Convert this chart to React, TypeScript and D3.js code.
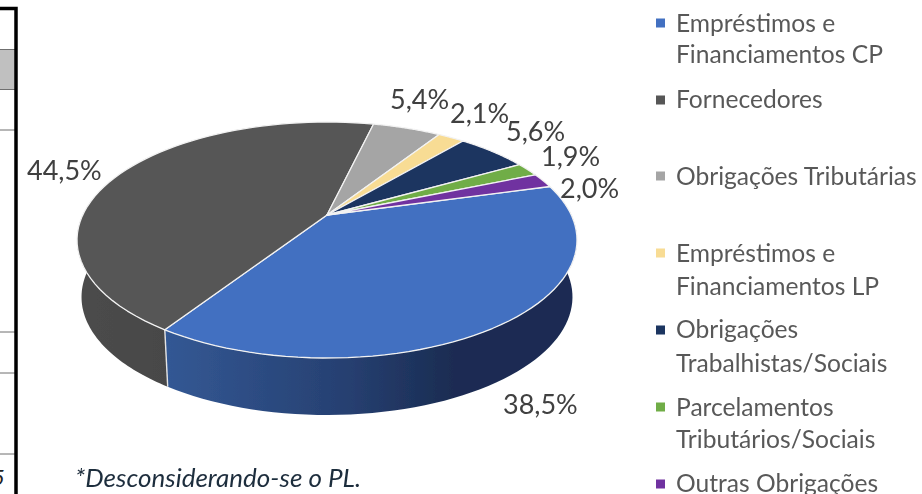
import React from 'react';
import * as d3 from 'd3';

// data
const categories = [
  'Empréstimos e Financiamentos CP',
  'Fornecedores',
  'Obrigações Tributárias',
  'Empréstimos e Financiamentos LP',
  'Obrigações Trabalhistas/Sociais',
  'Parcelamentos Tributários/Sociais',
  'Outras Obrigações',
];
const shares = [38.5, 44.5, 5.4, 2.1, 5.6, 1.9, 2.0];
const percentLabels = ['38,5%', '44,5%', '5,4%', '2,1%', '5,6%', '1,9%', '2,0%'];
const legendLines = [
  ['Empréstimos e', 'Financiamentos CP'],
  ['Fornecedores'],
  ['Obrigações Tributárias'],
  ['Empréstimos e', 'Financiamentos LP'],
  ['Obrigações', 'Trabalhistas/Sociais'],
  ['Parcelamentos', 'Tributários/Sociais'],
  ['Outras Obrigações'],
];
const footnote = '*Desconsiderando-se o PL.';

// layout and styles
const colors = ['#4270c1', '#575757', '#a5a5a5', '#f8dc94', '#1d3461', '#70ad47', '#7030a0'];
const labelPos = [[503, 414], [27, 180], [390, 109], [450, 123], [506, 141], [541, 166], [560, 198]];
const legendBaselines = [[32, 63], [108], [185], [262, 295], [338, 372], [416, 448], [492]];
const legendSquares = [23, 100, 176, 253, 330, 407, 484];
const tableRules = [49.5, 89.5, 130, 332, 373, 454];

const W = 922;
const H = 494;
const cx = 327;
const cy = 215;
const R = 244.3;
const tilt = 112.7;
const k = 0.2119;
const depth = 57;
const sideScale = 0.982;
const startDeg = 74.5;

// perspective projection of a point on the pie rim
const project = (a: number, r = 1): [number, number] => {
  const u = Math.sin(a) * r;
  const v = -Math.cos(a) * r;
  const s = 1 / (1 - k * v);
  return [cx + R * u * s, cy + tilt * v * s];
};
const projectLow = (a: number): [number, number] => {
  const [x, y] = project(a);
  return [cx + (x - cx) * sideScale, y + depth];
};

const line = d3.line();
const samples = (a0: number, a1: number, f: (a: number) => [number, number]) =>
  d3.range(0, 61).map((i) => f(a0 + ((a1 - a0) * i) / 60));

const App = () => {
  const arcs = d3
    .pie<number>()
    .sort(null)
    .startAngle((startDeg * Math.PI) / 180)
    .endAngle((startDeg * Math.PI) / 180 + 2 * Math.PI)(shares);

  const sideFrom = (88 * Math.PI) / 180;
  const sideTo = (272 * Math.PI) / 180;
  const sides = arcs
    .map((d, i) => ({ i, a0: Math.max(d.startAngle, sideFrom), a1: Math.min(d.endAngle, sideTo) }))
    .filter((s) => s.a1 > s.a0);

  const label = { fontFamily: 'Lato, sans-serif' };

  return (
    <svg
      width={W}
      height={H}
      viewBox={`0 0 ${W} ${H}`}
      style={{ position: 'absolute', left: 0, top: 0, display: 'block', background: '#fff' }}
    >
      <defs>
        <linearGradient id="side0" gradientUnits="userSpaceOnUse" x1={166} x2={577} y1={0} y2={0}>
          <stop offset="0" stopColor="#335894" />
          <stop offset="0.45" stopColor="#263f70" />
          <stop offset="0.7" stopColor="#1a2c52" />
          <stop offset="1" stopColor="#1a2c52" />
        </linearGradient>
        <linearGradient id="side1" gradientUnits="userSpaceOnUse" x1={78} x2={168} y1={0} y2={0}>
          <stop offset="0" stopColor="#4c4c4c" />
          <stop offset="1" stopColor="#474747" />
        </linearGradient>
        <filter id="soft" x="-5%" y="-5%" width="110%" height="110%">
          <feGaussianBlur stdDeviation="0.5" />
        </filter>
        <filter id="softText" x="-5%" y="-5%" width="110%" height="110%">
          <feGaussianBlur stdDeviation="0.35" />
        </filter>
      </defs>

      {/* what is left of the table beside the chart */}
      <g>
        <rect x={0} y={50} width={15} height={39} fill="#c0c0c0" />
        {tableRules.map((y) => (
          <line key={y} x1={0} x2={15} y1={y} y2={y} stroke="#6f6f6f" strokeWidth={1} />
        ))}
        <path d="M0 8.5H16V494" fill="none" stroke="#000" strokeWidth={3.5} />
        <text x={-8} y={485} fontSize={22} fontStyle="italic" fill="#222" style={label}>5</text>
      </g>

      <g filter="url(#soft)">
        {sides.map(({ i, a0, a1 }) => (
          <path
            key={i}
            d={
              line([
                ...samples(a0, a1, (a) => project(a)),
                ...samples(a1, a0, projectLow),
              ]) + 'Z'
            }
            fill={`url(#side${i})`}
          />
        ))}
        {/* seam between the two front walls */}
        <path
          d={line([project(arcs[0].endAngle), projectLow(arcs[0].endAngle)]) ?? ''}
          stroke="#e4e4e4"
          strokeWidth={1.4}
          fill="none"
        />
        {arcs.map((d, i) => (
          <path
            key={i}
            d={line([[cx, cy], ...samples(d.startAngle, d.endAngle, (a) => project(a))]) + 'Z'}
            fill={colors[i]}
            stroke="#f2f2f2"
            strokeWidth={1.3}
            strokeLinejoin="round"
          />
        ))}
      </g>

      <g filter="url(#softText)">
        {percentLabels.map((t, i) => (
          <text key={t} x={labelPos[i][0]} y={labelPos[i][1]} fontSize={27} fill="#404040" style={label}>
            {t}
          </text>
        ))}

        {categories.map((c, i) => (
          <g key={c}>
            <rect x={656} y={legendSquares[i] - 4.5} width={9} height={9} fill={colors[i]} />
            {legendLines[i].map((t, j) => (
              <text key={j} x={676} y={legendBaselines[i][j]} fontSize={24.6} fill="#595959" style={label}>
                {t}
              </text>
            ))}
          </g>
        ))}

        <text x={75} y={487} fontSize={26} fontStyle="italic" fill="#1f2d3d" style={label}>
          {footnote}
        </text>
      </g>
    </svg>
  );
};

export default App;
